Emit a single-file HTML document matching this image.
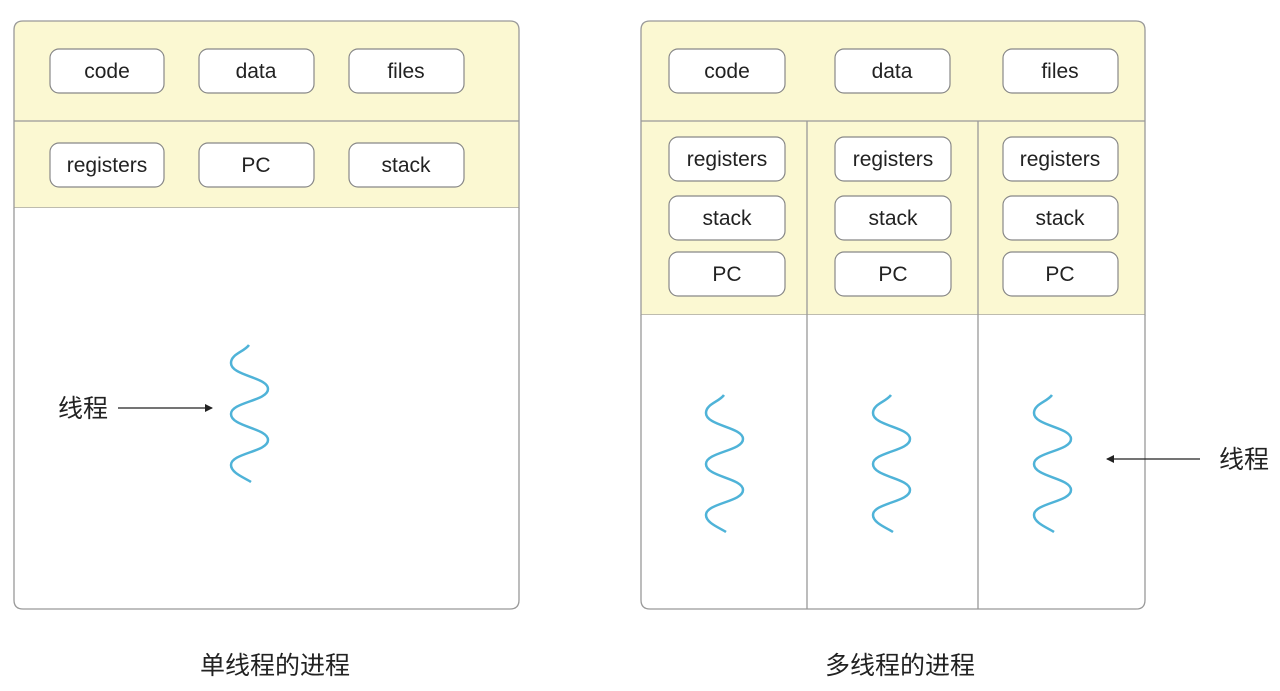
<!DOCTYPE html>
<html><head><meta charset="utf-8"><style>
html,body{margin:0;padding:0;background:#fff;}
body{width:1280px;height:686px;overflow:hidden;}
svg text{font-family:"Liberation Sans","Noto Sans CJK SC",sans-serif;fill:#222;}
</style></head><body>
<svg width="1280" height="686" viewBox="0 0 1280 686" xmlns="http://www.w3.org/2000/svg">
<defs>
<path id="w" d="M249,345 C244,352 231,354 231,363 C231,376 268,377 268,389 C268,401 231,402 231,414 C231,427 268,428 268,440 C268,452 231,453 231,465 C231,473 245,478 251,482" fill="none" stroke="#4fb3d8" stroke-width="2.5"/>
<marker id="a" markerWidth="8" markerHeight="8" refX="7" refY="4" orient="auto" markerUnits="userSpaceOnUse"><path d="M0,0 L8,4 L0,8 z" fill="#222"/></marker>
</defs>
<g stroke="#999" stroke-width="1.3">
<path d="M14,208 V30 Q14,21 23,21 H510 Q519,21 519,30 V208 Z" fill="#fbf8d2"/>
<path d="M14,208 V600 Q14,609 23,609 H510 Q519,609 519,600 V208" fill="#fff"/>
<line x1="14" y1="121" x2="519" y2="121"/>
<path d="M641,315 V30 Q641,21 650,21 H1136 Q1145,21 1145,30 V315 Z" fill="#fbf8d2"/>
<path d="M641,315 V600 Q641,609 650,609 H1136 Q1145,609 1145,600 V315" fill="#fff"/>
<line x1="641" y1="121" x2="1145" y2="121"/>
<line x1="807" y1="121" x2="807" y2="609"/>
<line x1="978" y1="121" x2="978" y2="609"/>
</g>
<g fill="#fff" stroke="#888" stroke-width="1.2">
<rect x="50" y="49" width="114" height="44" rx="9"/>
<rect x="199" y="49" width="115" height="44" rx="9"/>
<rect x="349" y="49" width="115" height="44" rx="9"/>
<rect x="50" y="143" width="114" height="44" rx="9"/>
<rect x="199" y="143" width="115" height="44" rx="9"/>
<rect x="349" y="143" width="115" height="44" rx="9"/>
<rect x="669" y="49" width="116" height="44" rx="9"/>
<rect x="835" y="49" width="115" height="44" rx="9"/>
<rect x="1003" y="49" width="115" height="44" rx="9"/>
<rect x="669" y="137" width="116" height="44" rx="9"/>
<rect x="669" y="196" width="116" height="44" rx="9"/>
<rect x="669" y="252" width="116" height="44" rx="9"/>
<rect x="835" y="137" width="116" height="44" rx="9"/>
<rect x="835" y="196" width="116" height="44" rx="9"/>
<rect x="835" y="252" width="116" height="44" rx="9"/>
<rect x="1003" y="137" width="115" height="44" rx="9"/>
<rect x="1003" y="196" width="115" height="44" rx="9"/>
<rect x="1003" y="252" width="115" height="44" rx="9"/>
</g>
<g font-size="21" text-anchor="middle">
<text x="107" y="78">code</text><text x="256" y="78">data</text><text x="406" y="78">files</text>
<text x="107" y="172">registers</text><text x="256" y="172">PC</text><text x="406" y="172">stack</text>
<text x="727" y="78">code</text><text x="892" y="78">data</text><text x="1060" y="78">files</text>
<text x="727" y="166">registers</text><text x="727" y="225">stack</text><text x="727" y="281">PC</text>
<text x="893" y="166">registers</text><text x="893" y="225">stack</text><text x="893" y="281">PC</text>
<text x="1060" y="166">registers</text><text x="1060" y="225">stack</text><text x="1060" y="281">PC</text>
</g>
<use href="#w"/>
<use href="#w" transform="translate(475,50)"/>
<use href="#w" transform="translate(642,50)"/>
<use href="#w" transform="translate(803,50)"/>
<line x1="118" y1="408" x2="212" y2="408" stroke="#222" stroke-width="1.2" marker-end="url(#a)"/>
<line x1="1200" y1="459" x2="1107" y2="459" stroke="#222" stroke-width="1.2" marker-end="url(#a)"/>
<g font-size="25">
<text x="58" y="417">线程</text>
<text x="1219" y="468">线程</text>
<text x="275" y="674" text-anchor="middle">单线程的进程</text>
<text x="900" y="674" text-anchor="middle">多线程的进程</text>
</g>
</svg>
</body></html>
